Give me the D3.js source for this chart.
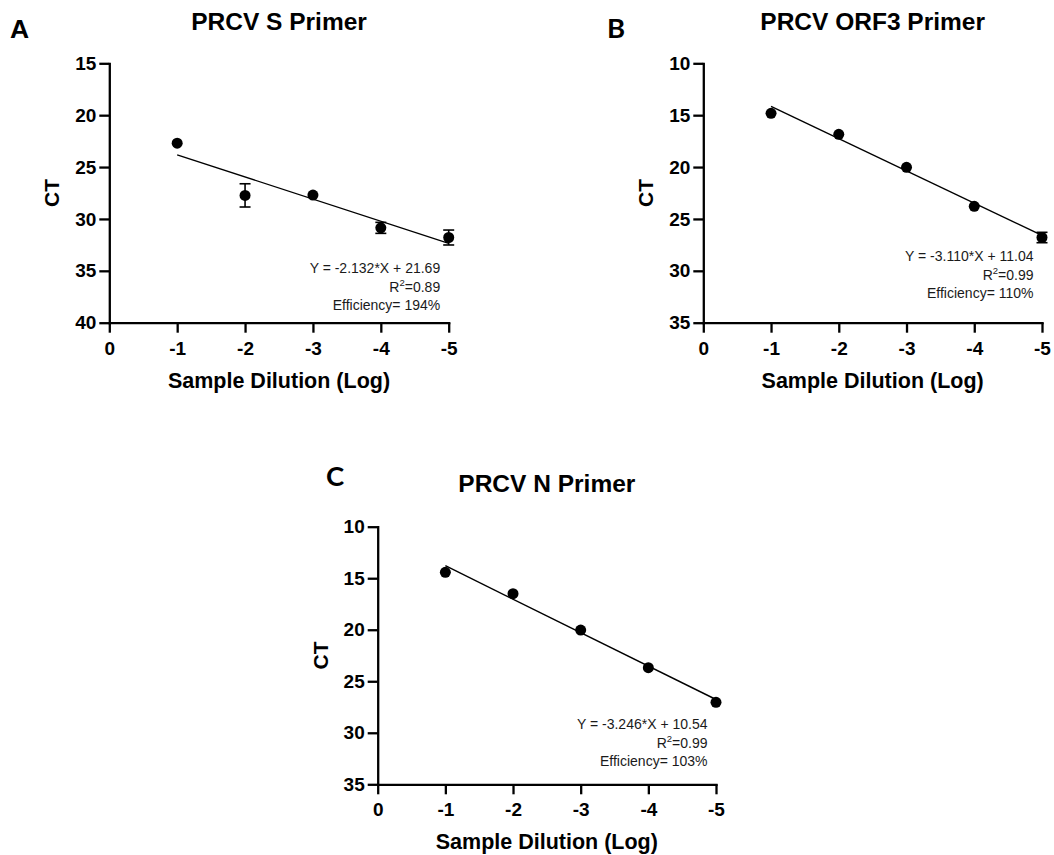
<!DOCTYPE html>
<html>
<head>
<meta charset="utf-8">
<script src="https://cdn.jsdelivr.net/npm/d3@7"></script>
<style>
  html, body { margin: 0; padding: 0; background: #fff; }
  svg { display: block; }
  .axis path, .axis line { stroke: #000; stroke-width: 2.3px; }
  .axis path { stroke-linecap: square; }
  .axis text { font-family: "Liberation Sans", Arial, sans-serif; font-weight: bold; font-size: 19px; fill: #000; }
</style>
</head>
<body>
<svg id="chart" width="1054" height="855"></svg>
<script>
// Serial dilutions (log10) shared by all three primer sets
const dilutions = [-1, -2, -3, -4, -5];
const xTicks = [0, -1, -2, -3, -4, -5];

// Mean CT and standard deviation per dilution
const ctS    = [22.70, 27.73, 27.70, 30.86, 31.79];
const sdS    = [0,     1.12,  0,     0.53,  0.72];
const ctORF3 = [14.82, 16.84, 20.02, 23.78, 26.79];
const sdORF3 = [0,     0,     0,     0,     0.50];
const ctN    = [14.43, 16.50, 20.03, 23.68, 27.04];
const sdN    = [0,     0,     0,     0,     0];

// Linear fits: CT = slope * log(dilution) + intercept
const slopes     = [-2.132, -3.110, -3.246];
const intercepts = [21.69, 11.04, 10.54];
const r2Values   = ["0.89", "0.99", "0.99"];
const efficiency = ["194%", "110%", "103%"];

// Panel titles, letters and CT axis ranges
const panelLetters = ["A", "B", "C"];
const panelTitles  = ["PRCV S Primer", "PRCV ORF3 Primer", "PRCV N Primer"];
const yDomains     = [[15, 40], [10, 35], [10, 35]];
const yTickSets    = [[15, 20, 25, 30, 35, 40], [10, 15, 20, 25, 30, 35], [10, 15, 20, 25, 30, 35]];

const seriesCt = [ctS, ctORF3, ctN];
const seriesSd = [sdS, sdORF3, sdN];

// Layout of each panel on the page
const layouts = [
  { left: 109.3, right: 448.7, top: 63.3, bottom: 322.7, letterX: 10,  letterY: 38,  letterFont: '"Liberation Sans", Arial, sans-serif', letterSize: 26.5, titleY: 30,  axisTitleY: 388, annY: 273 },
  { left: 703.3, right: 1042,  top: 63.3, bottom: 322.7, letterX: 607, letterY: 38,  letterFont: 'Lato, "Open Sans", sans-serif',         letterSize: 27.5, titleY: 30,  axisTitleY: 388, annY: 261 },
  { left: 377.7, right: 716,   top: 526.7, bottom: 784.3, letterX: 326, letterY: 486, letterFont: 'Lato, "Open Sans", sans-serif',        letterSize: 27.5, titleY: 492, axisTitleY: 849, annY: 729 }
];

const svg = d3.select("#chart");
const boldFont = '"Liberation Sans", Arial, sans-serif';

layouts.forEach((L, i) => {
  const g = svg.append("g");
  const x = d3.scaleLinear().domain([0, -5]).range([L.left, L.right]);
  const y = d3.scaleLinear().domain(yDomains[i]).range([L.top, L.bottom]);

  // Panel letter
  g.append("text")
    .attr("x", L.letterX).attr("y", L.letterY)
    .attr("font-family", L.letterFont)
    .attr("font-weight", "bold")
    .attr("font-size", L.letterSize)
    .text(panelLetters[i]);

  // Title
  g.append("text")
    .attr("x", (L.left + L.right) / 2).attr("y", L.titleY)
    .attr("text-anchor", "middle")
    .attr("font-family", boldFont).attr("font-weight", "bold").attr("font-size", 24.5)
    .text(panelTitles[i]);

  // Axes
  g.append("g").attr("class", "axis")
    .attr("transform", `translate(0,${L.bottom})`)
    .call(d3.axisBottom(x).tickValues(xTicks).tickFormat(d => String(d))
      .tickSize(10).tickSizeOuter(0).tickPadding(8.5));

  g.append("g").attr("class", "axis")
    .attr("transform", `translate(${L.left},0)`)
    .call(d3.axisLeft(y).tickValues(yTickSets[i]).tickFormat(d => String(d))
      .tickSize(10).tickSizeOuter(0).tickPadding(3));

  // Axis titles
  g.append("text")
    .attr("x", (L.left + L.right) / 2).attr("y", L.axisTitleY)
    .attr("text-anchor", "middle")
    .attr("font-family", boldFont).attr("font-weight", "bold").attr("font-size", 21.5)
    .text("Sample Dilution (Log)");

  g.append("text")
    .attr("transform", `translate(${L.left - 50},${(L.top + L.bottom) / 2}) rotate(-90)`)
    .attr("text-anchor", "middle")
    .attr("font-family", boldFont).attr("font-weight", "bold").attr("font-size", 21)
    .text("CT");

  // Regression line across the measured range
  const fit = d => slopes[i] * d + intercepts[i];
  const xs = d3.extent(dilutions);
  g.append("line")
    .attr("x1", x(xs[1])).attr("y1", y(fit(xs[1])))
    .attr("x2", x(xs[0])).attr("y2", y(fit(xs[0])))
    .attr("stroke", "#000").attr("stroke-width", 1.4);

  const pts = dilutions.map((d, k) => ({ d, ct: seriesCt[i][k], sd: seriesSd[i][k] }));

  // Error bars (mean ± SD)
  const eb = g.append("g").attr("stroke", "#000").attr("stroke-width", 1.6);
  pts.filter(p => p.sd > 0).forEach(p => {
    const cx = x(p.d), y1 = y(p.ct - p.sd), y2 = y(p.ct + p.sd);
    eb.append("line").attr("x1", cx).attr("x2", cx).attr("y1", y1).attr("y2", y2);
    eb.append("line").attr("x1", cx - 5.5).attr("x2", cx + 5.5).attr("y1", y1).attr("y2", y1);
    eb.append("line").attr("x1", cx - 5.5).attr("x2", cx + 5.5).attr("y1", y2).attr("y2", y2);
  });

  // Mean points
  g.selectAll("circle.pt").data(pts).join("circle")
    .attr("class", "pt")
    .attr("cx", p => x(p.d)).attr("cy", p => y(p.ct))
    .attr("r", 5.5).attr("fill", "#000");

  // Fit annotation
  const ann = g.append("text")
    .attr("font-family", '"Liberation Sans", Arial, sans-serif')
    .attr("font-size", 14).attr("fill", "#1a1a1a")
    .attr("text-anchor", "end");
  const annX = L.right - 8.5;
  const sign = intercepts[i] >= 0 ? "+" : "-";
  ann.append("tspan").attr("x", annX).attr("y", L.annY)
    .text(`Y = ${slopes[i].toFixed(3)}*X ${sign} ${Math.abs(intercepts[i]).toFixed(2)}`);
  const r2 = ann.append("tspan").attr("x", annX).attr("y", L.annY + 18.5);
  r2.append("tspan").text("R");
  r2.append("tspan").attr("font-size", 9.5).attr("dy", -5.5).text("2");
  r2.append("tspan").attr("dy", 5.5).text("=" + r2Values[i]);
  ann.append("tspan").attr("x", annX).attr("y", L.annY + 36.5)
    .text(`Efficiency= ${efficiency[i]}`);
});
</script>
</body>
</html>
